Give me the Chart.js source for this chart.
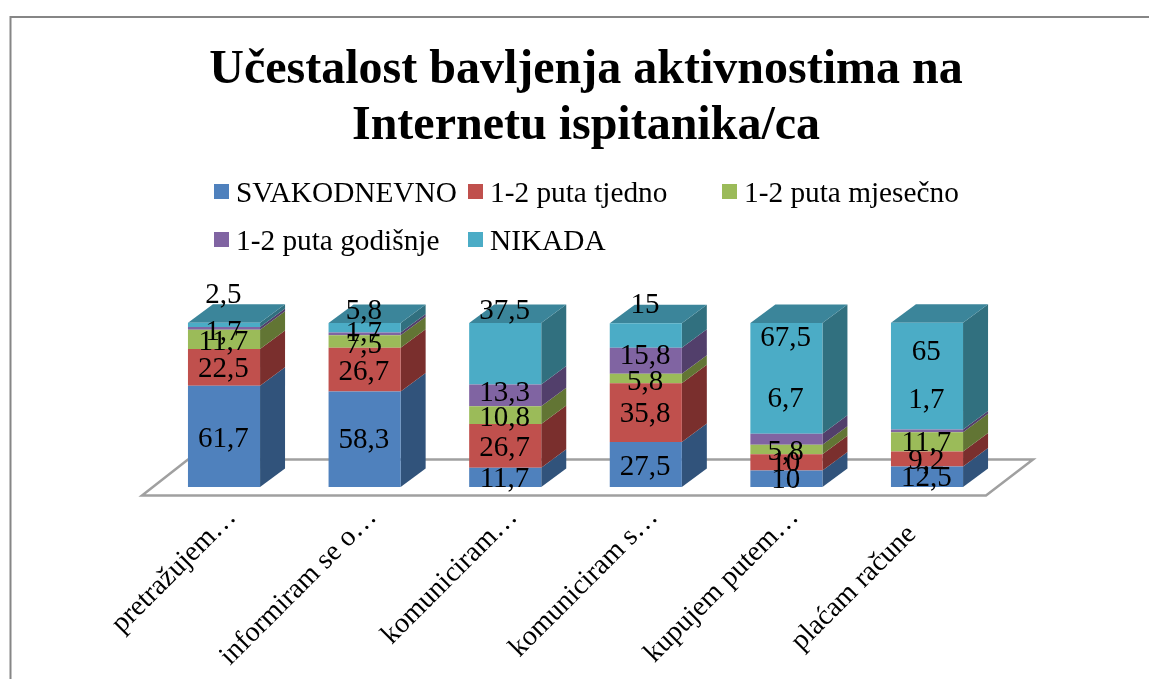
<!DOCTYPE html>
<html><head><meta charset="utf-8">
<script src="https://cdn.jsdelivr.net/npm/chart.js@4"></script>
<style>html,body{margin:0;padding:0;background:#fff;overflow:hidden}canvas{display:block}</style>
</head><body><canvas id="c" width="1149" height="679"></canvas>
<script>
const categories = ['pretražujem…','informiram se o…','komuniciram…','komuniciram s…','kupujem putem…','plaćam račune'];
const svakodnevno = [61.7,58.3,11.7,27.5,10,12.5];
const tjedno = [22.5,26.7,26.7,35.8,10,9.2];
const mjesecno = [11.7,7.5,10.8,5.8,5.8,11.7];
const godisnje = [1.7,1.7,13.3,15.8,6.7,1.7];
const nikada = [2.5,5.8,37.5,15,67.5,65];
const seriesNames = ['SVAKODNEVNO','1-2 puta tjedno','1-2 puta mjesečno','1-2 puta godišnje','NIKADA'];
const titleLines = ['Učestalost bavljenja aktivnostima na','Internetu ispitanika/ca'];

const frontColors = ['#4F81BD','#C0504D','#9BBB59','#8064A2','#4BACC6'];
const sideColors = ['#31537B','#7A2F2D','#627534','#523F6B','#31707F'];
const topColor = '#3B859A';
const serif = '"Liberation Serif"';
const DX = 25, DY = 18.5;

// vertical displacement of the data labels from their segment centre, as placed in the reference
const labelShift = [
 [1,0,0,1.6,0,0],
 [1,1.5,1,.5,-.7,1],
 [2,2,1.5,2,1.3,.5],
 [3,-2,-4,-5.7,-41.5,-31.5],
 [-31,-18,-44,-31.5,-41.7,-25.4]
];
const tickShift = [[0,0],[0,0],[0,0],[0,0],[0,0],[-23,17]];
const legendSlots = [[214,191.5],[468,191.5],[722,191.5],[214,239.5],[468,239.5]];

const scene = {
  id:'scene',
  afterLayout(chart){
    const t = chart.titleBlock; t.left = 23; t.right = 1149;
  },
  beforeDraw(chart){
    const {ctx,chartArea:a} = chart;
    ctx.save();
    ctx.strokeStyle='#868686'; ctx.lineWidth=2;
    ctx.beginPath(); ctx.moveTo(10.5,679); ctx.lineTo(10.5,17); ctx.lineTo(1149,17); ctx.stroke();
    ctx.restore();
    const items = chart.scales.x.getLabelItems(a);
    items.forEach((it,i)=>{ if(!it._moved){ it._moved=true; it.options.translation[0]+=tickShift[i][0]; it.options.translation[1]+=tickShift[i][1]; } });
  },
  beforeDatasetsDraw(chart){
    const {ctx,chartArea:a} = chart;
    ctx.save();
    ctx.strokeStyle='#A0A0A0'; ctx.lineWidth=2.5; ctx.lineJoin='miter';
    ctx.beginPath();
    ctx.moveTo(a.left-11.7,a.bottom+8.5); ctx.lineTo(a.right-11.3,a.bottom+8.5);
    ctx.lineTo(a.right+35.7,a.bottom-27.5); ctx.lineTo(a.left+34.3,a.bottom-27.5); ctx.closePath(); ctx.stroke();
    chart.data.datasets.forEach((ds,s)=>{
      chart.getDatasetMeta(s).data.forEach(b=>{
        const r=b.x+b.width/2,l=b.x-b.width/2,top=b.y,base=b.base;
        ctx.fillStyle=sideColors[s];
        ctx.beginPath(); ctx.moveTo(r,top); ctx.lineTo(r+DX,top-DY); ctx.lineTo(r+DX,base-DY); ctx.lineTo(r,base); ctx.closePath(); ctx.fill();
        if(s===chart.data.datasets.length-1){
          ctx.fillStyle=topColor;
          ctx.beginPath(); ctx.moveTo(l,top); ctx.lineTo(l+DX,top-DY); ctx.lineTo(r+DX,top-DY); ctx.lineTo(r,top); ctx.closePath(); ctx.fill();
        }
      });
    });
    ctx.restore();
  },
  afterDatasetsDraw(chart){
    const {ctx} = chart;
    ctx.save();
    ctx.fillStyle='#000'; ctx.textAlign='center'; ctx.textBaseline='middle';
    ctx.font='29px '+serif;
    chart.data.datasets.forEach((ds,s)=>{
      chart.getDatasetMeta(s).data.forEach((b,i)=>{
        ctx.fillText(String(ds.data[i]).replace('.',','), b.x-0.7, (b.y+b.base)/2+labelShift[s][i]+1.5);
      });
    });
    ctx.textAlign='left'; ctx.font='29.3px '+serif;
    chart.data.datasets.forEach((ds,s)=>{
      const [x,y]=legendSlots[s];
      ctx.fillStyle=frontColors[s]; ctx.fillRect(x,y-7.5,15,15);
      ctx.fillStyle='#000'; ctx.fillText(ds.label,x+22,y+2.5);
    });
    ctx.restore();
  }
};

new Chart(document.getElementById('c'),{
  type:'bar',
  data:{labels:categories,datasets:[svakodnevno,tjedno,mjesecno,godisnje,nikada].map((d,s)=>({
    label:seriesNames[s],data:d,backgroundColor:frontColors[s],borderWidth:0,clip:false,
    barPercentage:.72,categoryPercentage:.712
  }))},
  options:{
    responsive:false,animation:false,
    layout:{padding:{left:153.7,right:151.7,top:0,bottom:0}},
    plugins:{
      legend:{display:false},tooltip:{enabled:false},
      title:{display:true,text:titleLines,color:'#000',font:{family:serif,size:48,weight:'bold',lineHeight:1.167},padding:{top:43,bottom:168}}
    },
    scales:{
      x:{stacked:true,grid:{display:false},border:{display:false},
        afterFit(s){s.height=192;},
        ticks:{color:'#000',font:{family:serif,size:28.3},minRotation:45,maxRotation:45,autoSkip:false,padding:6,labelOffset:8}},
      y:{stacked:true,min:0,max:100,display:false}
    }
  },
  plugins:[scene]
});
</script></body></html>
